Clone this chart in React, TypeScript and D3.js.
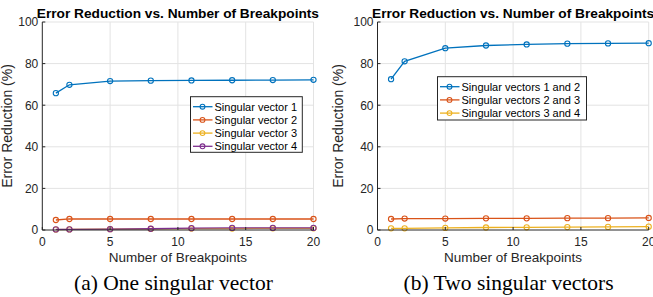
import React from "react";
import * as d3 from "d3";

const breakpoints = [1, 2, 5, 8, 11, 14, 17, 20];

// (a) one singular vector
const sv1 = [65.8, 69.8, 71.6, 71.8, 71.9, 72.0, 72.1, 72.2];
const sv2 = [4.8, 5.3, 5.3, 5.3, 5.3, 5.3, 5.3, 5.3];
const sv3 = [0.2, 0.3, 0.4, 0.5, 0.7, 0.7, 0.8, 0.8];
const sv4 = [0.3, 0.3, 0.4, 0.6, 0.9, 1.0, 1.0, 1.0];

// (b) two singular vectors
const sv12 = [72.5, 81.1, 87.4, 88.7, 89.2, 89.6, 89.7, 89.8];
const sv23 = [5.3, 5.5, 5.5, 5.6, 5.6, 5.7, 5.7, 5.8];
const sv34 = [0.8, 0.8, 1.0, 1.2, 1.3, 1.4, 1.5, 1.6];

const xTicks = [0, 5, 10, 15, 20];
const yTicks = [0, 20, 40, 60, 80, 100];

const COLORS = ["#0072BD", "#D95319", "#EDB120", "#7E2F8E"];
const AXIS = "#262626";
const GRID = "#e3e3e3";
const SANS = "'Liberation Sans', Arial, Helvetica, sans-serif";

type Series = { name: string; values: number[]; color: string };

interface PanelProps {
  left: number;
  right: number;
  clipLeft: number;
  clipRight: number;
  labelX: number;
  series: Series[];
  legend: { x: number; y: number; w: number; h: number };
  caption: string;
  id: string;
}

const Panel: React.FC<PanelProps> = ({ left, right, clipLeft, clipRight, labelX, series, legend, caption, id }) => {
  const top = 22;
  const bottom = 230;
  const x = d3.scaleLinear().domain([0, 20]).range([left, right]);
  const y = d3.scaleLinear().domain([0, 100]).range([bottom, top]);
  const line = d3
    .line<number>()
    .x((_, i) => x(breakpoints[i]))
    .y((d) => y(d));
  const cx = (left + right) / 2;
  const rowH = 13.2;

  return (
    <g clipPath={`url(#${id})`}>
      <defs>
        <clipPath id={id}>
          <rect x={clipLeft} y={0} width={clipRight - clipLeft} height={297} />
        </clipPath>
      </defs>
      {/* grid */}
      {xTicks.slice(1).map((t) => (
        <line key={"gx" + t} x1={x(t)} x2={x(t)} y1={top} y2={bottom} stroke={GRID} strokeWidth={1} />
      ))}
      {yTicks.slice(1).map((t) => (
        <line key={"gy" + t} x1={left} x2={right} y1={y(t)} y2={y(t)} stroke={GRID} strokeWidth={1} />
      ))}
      {/* series */}
      {series.map((s) => (
        <g key={s.name}>
          <path d={line(s.values) || ""} fill="none" stroke={s.color} strokeWidth={1.3} />
          {s.values.map((v, i) => (
            <circle key={i} cx={x(breakpoints[i])} cy={y(v)} r={2.6} fill="none" stroke={s.color} strokeWidth={1.1} />
          ))}
        </g>
      ))}
      {/* axes */}
      <line x1={left} x2={left} y1={top} y2={bottom} stroke={AXIS} strokeWidth={1} />
      <line x1={left} x2={right} y1={bottom} y2={bottom} stroke={AXIS} strokeWidth={1} />
      {yTicks.map((t) => (
        <g key={"ty" + t}>
          <line x1={left} x2={left + 3} y1={y(t)} y2={y(t)} stroke={AXIS} />
          <text x={left - 4} y={y(t) + 4.3} textAnchor="end" fontSize={12} fill={AXIS} fontFamily={SANS}>
            {t}
          </text>
        </g>
      ))}
      {xTicks.map((t) => (
        <g key={"tx" + t}>
          <line x1={x(t)} x2={x(t)} y1={bottom} y2={bottom - 3} stroke={AXIS} />
          <text x={x(t)} y={246} textAnchor="middle" fontSize={12} fill={AXIS} fontFamily={SANS}>
            {t}
          </text>
        </g>
      ))}
      {/* labels */}
      <text x={cx} y={17.5} textAnchor="middle" fontSize={13.7} fontWeight="bold" fill="#000" fontFamily={SANS}>
        Error Reduction vs. Number of Breakpoints
      </text>
      <text x={cx} y={262} textAnchor="middle" fontSize={13.5} fill={AXIS} fontFamily={SANS}>
        Number of Breakpoints
      </text>
      <text
        transform={`translate(${labelX},${(top + bottom) / 2}) rotate(-90)`}
        textAnchor="middle"
        fontSize={14}
        fill={AXIS}
        fontFamily={SANS}
      >
        Error Reduction (%)
      </text>
      {/* legend */}
      <rect x={legend.x} y={legend.y} width={legend.w} height={legend.h} fill="#fff" stroke={AXIS} strokeWidth={1} />
      {series.map((s, i) => {
        const ly = legend.y + 10 + i * rowH;
        return (
          <g key={"lg" + s.name}>
            <line x1={legend.x + 2.5} x2={legend.x + 22} y1={ly} y2={ly} stroke={s.color} strokeWidth={1.3} />
            <circle cx={legend.x + 12} cy={ly} r={2.4} fill="none" stroke={s.color} strokeWidth={1.1} />
            <text x={legend.x + 24} y={ly + 3.9} fontSize={11} fill="#000" fontFamily={SANS}>
              {s.name}
            </text>
          </g>
        );
      })}
      <text x={cx - 4.5} y={290} textAnchor="middle" fontSize={21.5} fill="#000" fontFamily="'Liberation Serif', 'Times New Roman', serif">
        {caption}
      </text>
    </g>
  );
};

export default function App() {
  const seriesA: Series[] = [
    { name: "Singular vector 1", values: sv1, color: COLORS[0] },
    { name: "Singular vector 2", values: sv2, color: COLORS[1] },
    { name: "Singular vector 3", values: sv3, color: COLORS[2] },
    { name: "Singular vector 4", values: sv4, color: COLORS[3] },
  ];
  const seriesB: Series[] = [
    { name: "Singular vectors 1 and 2", values: sv12, color: COLORS[0] },
    { name: "Singular vectors 2 and 3", values: sv23, color: COLORS[1] },
    { name: "Singular vectors 3 and 4", values: sv34, color: COLORS[2] },
  ];
  return (
    <div style={{ position: "absolute", left: 0, top: 0 }}>
      <svg width={653} height={297} style={{ display: "block", background: "#fff" }}>
        <Panel
          id="clipA"
          left={42.3}
          right={313.5}
          clipLeft={0}
          clipRight={330}
          labelX={12}
          series={seriesA}
          legend={{ x: 190.5, y: 96.7, w: 111.8, h: 55.6 }}
          caption="(a) One singular vector"
        />
        <Panel
          id="clipB"
          left={377.5}
          right={648.7}
          clipLeft={331}
          clipRight={653}
          labelX={342.5}
          series={seriesB}
          legend={{ x: 437.5, y: 76.7, w: 149, h: 43.3 }}
          caption="(b) Two singular vectors"
        />
      </svg>
    </div>
  );
}
